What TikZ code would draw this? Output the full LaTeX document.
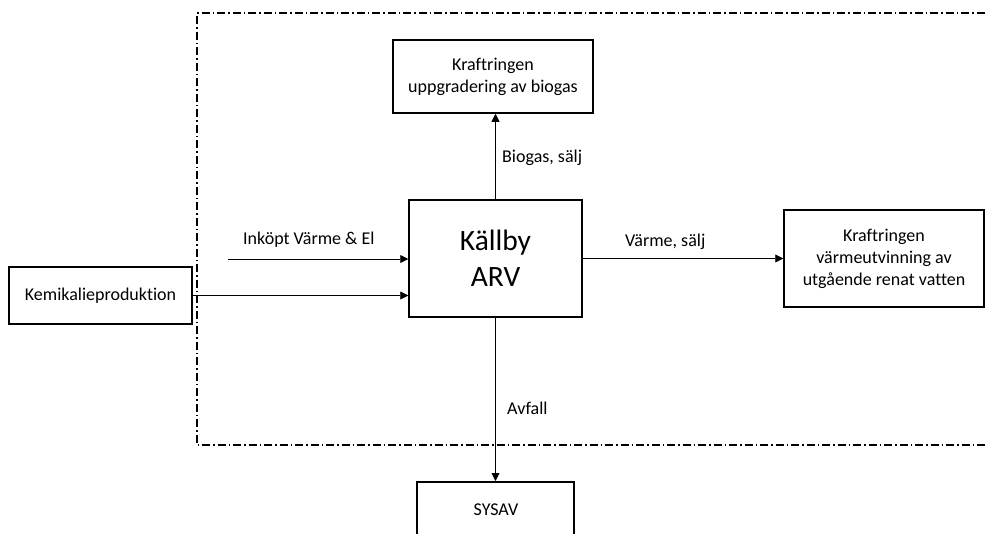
\documentclass[tikz,border=0pt]{standalone}
\usepackage{fontspec}
\setmainfont{Carlito}[Ligatures={NoCommon}]
\usetikzlibrary{arrows.meta}
\begin{document}
\begin{tikzpicture}[x=1pt,y=-1pt,
  box/.style={draw=black, line width=1.5pt, fill=white, align=center, font=\fontsize{18}{22}\selectfont, inner sep=0pt},
  flow/.style={draw=black, line width=0.9pt, -{Triangle[length=8pt,width=8pt]}},
  lbl/.style={font=\fontsize{18}{22}\selectfont, inner sep=0pt, anchor=west},
  bound/.style={draw=black, line width=1.3pt, dash pattern=on 8pt off 3pt on 1.5pt off 3pt}]
\useasboundingbox (0,0) rectangle (988,533);
\clip (0,0) rectangle (988,533);
\fill[white] (0,0) rectangle (988,533);
% system boundary
\draw[bound] (1000,13) -- (197,13) -- (197,445) -- (1000,445);
% boxes
\node[box, minimum width=200pt, minimum height=73pt] (top) at (493,76.5) {Kraftringen\\uppgradering av biogas};
\node[box, minimum width=173pt, minimum height=117pt, font=\fontsize{29.5}{36}\selectfont] (arv) at (495.5,258.5) {Källby\\ARV};
\node[box, minimum width=183pt, minimum height=57pt] (kem) at (100.5,295.5) {Kemikalieproduktion};
\node[box, minimum width=200pt, minimum height=97pt] (right) at (884,258.5) {Kraftringen\\värmeutvinning av\\utgående renat vatten};
\node[box, minimum width=157pt, minimum height=100pt, anchor=north] (sysav) at (495.5,481) {};
\node[font=\fontsize{18}{22}\selectfont, inner sep=0pt] (sysavt) at (496,510) {SYSAV};
% connectors
\coordinate (ink) at (228,259);
\draw[flow] (ink) -- (ink -| arv.west);
\draw[flow] (kem.east) -- (kem.east -| arv.west);
\draw[flow] (arv.north) -- (arv.north |- top.south);
\draw[flow] (arv.east) -- (right.west);
\draw[flow] (arv.south) -- (arv.south |- sysav.north);
% labels
\node[lbl] (l1) at (243,240) {Inköpt Värme \& El};
\node[lbl] (l2) at (502,158) {Biogas, sälj};
\node[lbl] (l3) at (625,242) {Värme, sälj};
\node[lbl] (l4) at (507,408) {Avfall};
\end{tikzpicture}
\end{document}
